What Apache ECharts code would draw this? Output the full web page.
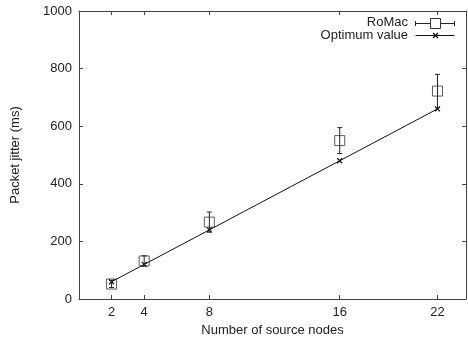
<!DOCTYPE html>
<html>
<head>
<meta charset="utf-8">
<script src="https://cdn.jsdelivr.net/npm/echarts@6/dist/echarts.min.js"></script>
<style>
html,body{margin:0;padding:0;background:#fff;}
#main{width:468px;height:342px;}
</style>
</head>
<body>
<div id="main"></div>
<script>
var nodes = [2, 4, 8, 16, 22];
var romacMean = [52, 132, 267, 550, 722];
var romacErr = [12, 18, 35, 45, 58];
var optimum = [60, 120, 240, 480, 660];
var xTicks = [2, 4, 8, 16, 22];
var yTicks = [0, 200, 400, 600, 800, 1000];

var FONT = '"Liberation Sans", Arial, sans-serif';
var AX = '#444';
var TXT = '#222';

var chart = echarts.init(document.getElementById('main'), null, {renderer: 'canvas'});

var errData = nodes.map(function (n, i) { return [n, romacMean[i] - romacErr[i], romacMean[i] + romacErr[i]]; });
var boxData = nodes.map(function (n, i) { return [n, romacMean[i]]; });
var optData = nodes.map(function (n, i) { return [n, optimum[i]]; });

var xCommon = {
  type: 'value', min: 0, max: 23.75,
  axisLine: {show: true, onZero: false, lineStyle: {color: AX, width: 1}},
  splitLine: {show: false}
};
var yCommon = {
  type: 'value', min: 0, max: 1000, interval: 200,
  axisLine: {show: true, onZero: false, lineStyle: {color: AX, width: 1}},
  splitLine: {show: false}
};

chart.setOption({
  animation: false,
  backgroundColor: '#fff',
  grid: {left: 79, right: 2, top: 11, bottom: 43, containLabel: false},
  xAxis: [
    Object.assign({}, xCommon, {
      position: 'bottom',
      name: 'Number of source nodes', nameLocation: 'middle', nameGap: 22,
      nameTextStyle: {fontFamily: FONT, fontSize: 13, color: TXT},
      axisTick: {show: true, inside: true, length: 4, customValues: xTicks, lineStyle: {color: AX}},
      axisLabel: {show: true, customValues: xTicks, fontFamily: FONT, fontSize: 13, color: TXT, margin: 7}
    }),
    Object.assign({}, xCommon, {
      position: 'top',
      axisTick: {show: true, inside: true, length: 4, customValues: xTicks, lineStyle: {color: AX}},
      axisLabel: {show: false}
    })
  ],
  yAxis: [
    Object.assign({}, yCommon, {
      position: 'left',
      name: 'Packet jitter (ms)', nameLocation: 'middle', nameGap: 57, nameRotate: 90,
      nameTextStyle: {fontFamily: FONT, fontSize: 13, color: TXT},
      axisTick: {show: true, inside: true, length: 4, lineStyle: {color: AX}},
      axisLabel: {show: true, customValues: yTicks, formatter: function (v) { return String(v); },
        fontFamily: FONT, fontSize: 13, color: TXT, margin: 7}
    }),
    Object.assign({}, yCommon, {
      position: 'right',
      axisTick: {show: true, inside: true, length: 4, lineStyle: {color: AX}},
      axisLabel: {show: false}
    })
  ],
  series: [
    {
      type: 'line', name: 'Optimum value', data: optData,
      xAxisIndex: 0, yAxisIndex: 0,
      lineStyle: {color: '#111', width: 1},
      symbol: 'path://M0,0L10,10M10,0L0,10', symbolSize: 5,
      itemStyle: {color: 'none', borderColor: '#111', borderWidth: 1.2},
      z: 3
    },
    {
      type: 'custom', name: 'RoMacErr', data: errData,
      xAxisIndex: 0, yAxisIndex: 0,
      renderItem: function (params, api) {
        var x = api.value(0);
        var lo = api.coord([x, api.value(1)]);
        var hi = api.coord([x, api.value(2)]);
        var c = 2.5;
        var st = {stroke: '#222', lineWidth: 1, fill: 'none'};
        return {
          type: 'group',
          children: [
            {type: 'line', shape: {x1: lo[0], y1: lo[1], x2: hi[0], y2: hi[1]}, style: st},
            {type: 'line', shape: {x1: lo[0] - c, y1: lo[1], x2: lo[0] + c, y2: lo[1]}, style: st},
            {type: 'line', shape: {x1: hi[0] - c, y1: hi[1], x2: hi[0] + c, y2: hi[1]}, style: st}
          ]
        };
      },
      z: 4
    },
    {
      type: 'scatter', name: 'RoMac', data: boxData,
      xAxisIndex: 0, yAxisIndex: 0,
      symbol: 'rect', symbolSize: 10,
      itemStyle: {color: 'rgba(255,255,255,0)', borderColor: '#333', borderWidth: 1},
      z: 5
    }
  ],
  graphic: [
    {type: 'text', right: 468 - 408, top: 16, style: {text: 'RoMac', font: '13px ' + FONT, fill: TXT, align: 'right'}},
    {type: 'text', right: 468 - 408, top: 29, style: {text: 'Optimum value', font: '13px ' + FONT, fill: TXT, align: 'right'}},
    {type: 'line', shape: {x1: 415.5, y1: 23.5, x2: 454.5, y2: 23.5}, style: {stroke: '#222', lineWidth: 1}},
    {type: 'line', shape: {x1: 415.5, y1: 21, x2: 415.5, y2: 26}, style: {stroke: '#222', lineWidth: 1}},
    {type: 'line', shape: {x1: 454.5, y1: 21, x2: 454.5, y2: 26}, style: {stroke: '#222', lineWidth: 1}},
    {type: 'rect', shape: {x: 430.5, y: 18.5, width: 10, height: 10}, style: {stroke: '#333', fill: '#fff', lineWidth: 1}},
    {type: 'line', shape: {x1: 415.5, y1: 35.5, x2: 454.5, y2: 35.5}, style: {stroke: '#111', lineWidth: 1}},
    {type: 'line', shape: {x1: 433, y1: 33, x2: 438, y2: 38}, style: {stroke: '#111', lineWidth: 1.2}},
    {type: 'line', shape: {x1: 438, y1: 33, x2: 433, y2: 38}, style: {stroke: '#111', lineWidth: 1.2}}
  ]
});
</script>
</body>
</html>
